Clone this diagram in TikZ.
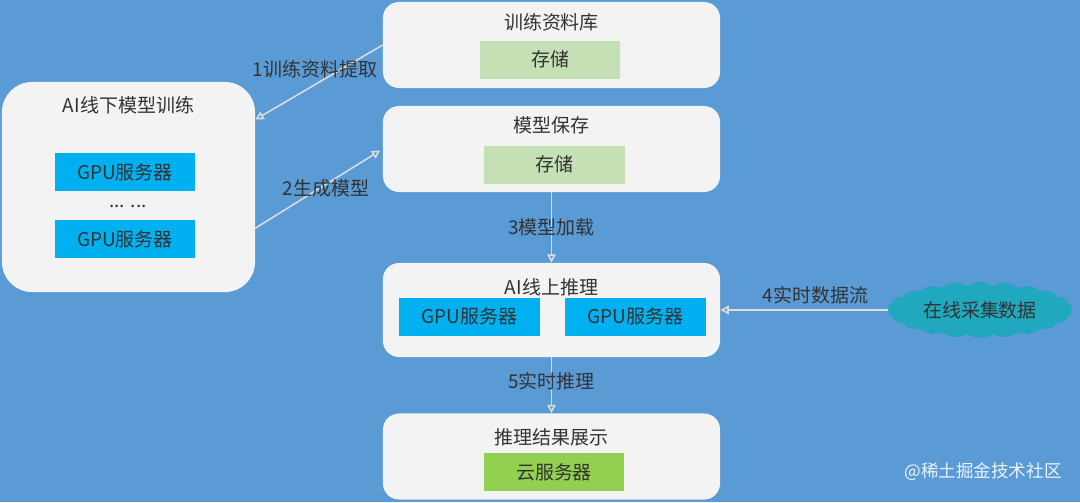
\documentclass[tikz,border=0pt]{standalone}
\usepackage{fontspec}
\setmainfont{Noto Sans CJK SC}
\usepackage[dvipsnames]{xcolor}
\usetikzlibrary{arrows, arrows.meta}
\usetikzlibrary{positioning}
\usetikzlibrary{shapes.symbols}

\definecolor{bgblue}{HTML}{5A9AD5}
\definecolor{panelgray}{HTML}{F3F3F3}
\definecolor{gpublue}{HTML}{00B0F0}
\definecolor{diskgreen}{HTML}{C5E0B4}
\definecolor{srvgreen}{HTML}{92D050}
\definecolor{cloudteal}{HTML}{20A8BF}
\definecolor{textgray}{HTML}{333333}
\definecolor{arrowgray}{HTML}{DCDCDC}

\begin{document}
\begin{tikzpicture}[x=0.025cm, y=-0.025cm,
	every node/.style={font=\fontsize{13.5pt}{16pt}\selectfont, text=textgray},
	panel/.style={fill=panelgray, rounded corners=0.4cm, minimum width=8.425cm, minimum height=2.15cm},
	gpu/.style={fill=gpublue, minimum width=3.5cm, minimum height=0.95cm},
	disk/.style={fill=diskgreen, minimum width=3.5cm, minimum height=0.95cm},
	flow/.style={draw=arrowgray, line width=1.1pt, -{Triangle[open, length=6pt, width=6pt]}}
]
	%background
	\fill[bgblue] (0,0) rectangle (1080,502);
	\useasboundingbox (0,0) rectangle (1080,502);
	
	% right column
	\node[panel] (lib) at (551.5,45) {};
	\node (libtitle) at (551.5,22) {训练资料库};
	\node[disk] (libdisk) at (550,59.5) {存储};
	
	\node[panel] (save) at (551.5,149) {};
	\node (savetitle) at (551.5,125) {模型保存};
	\node[disk] (savedisk) at (554.5,164.5) {存储};
	
	\node[panel, minimum height=2.35cm] (infer) at (551.5,310) {};
	\node (infertitle) at (551.5,287) {AI线上推理};
	\node[gpu] (infergpuA) at (469.5,316.5) {GPU服务器};
	\node[gpu] (infergpuB) at (635.5,316.5) {GPU服务器};
	
	\node[panel] (show) at (551.5,456.5) {};
	\node (showtitle) at (551.5,437) {推理结果展示};
	\node[disk, fill=srvgreen] (showsrv) at (554,472) {云服务器};
	
	% left box
	\node[panel, rounded corners=0.75cm, minimum width=6.325cm, minimum height=5.25cm] (train) at (128.5,187) {};
	\node (traintitle) at (128.5,105) {AI线下模型训练};
	\node[gpu] (traingpuA) at (125,172) {GPU服务器};
	\node (dots) at (128,206) {... ...};
	\node[gpu] (traingpuB) at (125,239) {GPU服务器};
	
	% cloud
	\node[cloud, cloud puffs=22, cloud puff arc=70, aspect=3.6, fill=cloudteal, minimum width=4.6cm, minimum height=1.4cm] (collect) at (980,310) {在线采集数据};
	
	% add arrow
	\draw[flow] (lib.west) -- (train.28) node[midway, above=-1pt, xshift=-3pt] {1训练资料提取};
	\draw[flow, shorten >=2pt] (train.-18) -- (save.west) node[midway, xshift=5pt] {2生成模型};
	\draw[flow] (save.south) -- (infer.north) node[midway] {3模型加载};
	\draw[flow] (collect.west) -- (infer.east) node[midway, above, xshift=8pt] {4实时数据流};
	\draw[flow] (infer.south) -- (show.north) node[midway, yshift=3pt] {5实时推理};
	
	% watermark
	\node[text=white!88!bgblue, font=\fontsize{12.5pt}{15pt}\selectfont] (mark) at (983,472) {@稀土掘金技术社区};
\end{tikzpicture}
\end{document}
